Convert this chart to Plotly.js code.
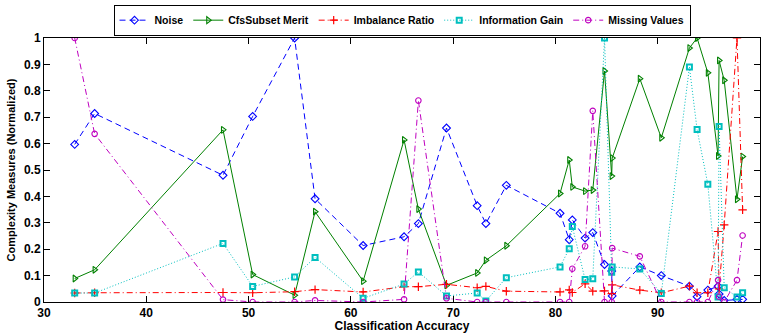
<!DOCTYPE html>
<html>
<head>
<meta charset="utf-8">
<script src="https://cdn.plot.ly/plotly-3.0.1.min.js"></script>
<style>
  html, body { margin: 0; padding: 0; background: #ffffff; }
  #chart { width: 766px; height: 333px; }
</style>
</head>
<body>
<div id="chart"></div>
<script>
// Classification accuracy of each dataset (x values)
const accuracy = [33.0, 34.95, 47.5, 50.4, 54.5, 56.5, 61.2, 65.2, 66.6, 69.35, 72.35, 73.2, 75.2,
  80.45, 81.35, 81.65, 82.9, 83.65, 84.8, 85.5, 85.55, 88.25, 90.35, 93.1, 93.85, 94.9,
  95.9, 96.0, 96.5, 97.75, 98.3];

const noise = [0.597, 0.714, 0.48, 0.703, 1.0, 0.391, 0.214, 0.247, 0.297, 0.659, 0.365, 0.297, 0.442,
  0.336, 0.236, 0.311, 0.242, 0.263, 0.142, 0.117, 0.023, 0.133, 0.1, 0.06, 0.02, 0.045,
  0.06, 0.03, 0.006, 0.01, 0.01];

const cfsSubsetMerit = [0.089, 0.122, 0.652, 0.104, 0.026, 0.342, 0.079, 0.614, 0.352, 0.063, 0.11, 0.158, 0.213,
  0.411, 0.538, 0.436, 0.42, 0.424, 0.875, 0.477, 0.545, 0.846, 0.622, 0.962, 1.0, 0.868,
  0.553, 0.915, 0.84, 0.389, 0.551];

const imbalanceRatio = [0.034, 0.035, 0.036, 0.035, 0.039, 0.047, 0.038, 0.058, 0.058, 0.067, 0.054, 0.059, 0.041,
  0.038, 0.046, 0.036, 0.069, 0.041, 0.042, 0.032, 0.065, 0.045, 0.035, 0.06, 0.035, 0.035,
  0.267, 0.05, 0.292, 1.0, 0.349];

const informationGain = [0.034, 0.034, 0.222, 0.059, 0.095, 0.169, 0.014, 0.068, 0.114, 0.023, 0.034, 0.004, 0.092,
  0.133, 0.202, 0.286, 0.085, 0.088, 1.0, 0.113, 0.133, 0.125, 0.032, 0.89, 0.653, 0.446,
  0.019, 0.665, 0.054, 0.019, 0.035];

const missingValues = [1.0, 0.637, 0.009, 0, 0, 0.006, 0, 0.01, 0.763, 0.014, 0, 0, 0,
  0, 0, 0.126, 0.211, 0.724, 0, 0, 0.204, 0.173, 0, 0, 0, 0,
  0.083, 0.02, 0, 0.083, 0.252];

const seriesNames = ["Noise", "CfsSubset Merit", "Imbalance Ratio", "Information Gain", "Missing Values"];
const xTicks = [30, 40, 50, 60, 70, 80, 90, 100];
const yTicks = [0, 0.1, 0.2, 0.3, 0.4, 0.5, 0.6, 0.7, 0.8, 0.9, 1];

const FONT = "Liberation Sans, Arial, Helvetica, sans-serif";

const traces = [
  { x: accuracy, y: noise, name: seriesNames[0], type: "scatter", mode: "lines+markers",
    line: { color: "#0000ff", width: 1, dash: "6px,4px" },
    marker: { symbol: "diamond-open", size: 6, color: "#0000ff", line: { width: 1.1, color: "#0000ff" } } },
  { x: accuracy, y: cfsSubsetMerit, name: seriesNames[1], type: "scatter", mode: "lines+markers",
    line: { color: "#008000", width: 1, dash: "solid" },
    marker: { symbol: "triangle-right-open", size: 6, color: "#008000", line: { width: 1.1, color: "#008000" } } },
  { x: accuracy, y: imbalanceRatio, name: seriesNames[2], type: "scatter", mode: "lines+markers",
    line: { color: "#ff0000", width: 1, dash: "6px,3px,1px,3px" },
    marker: { symbol: "cross-thin-open", size: 6, color: "#ff0000", line: { width: 1.2, color: "#ff0000" } } },
  { x: accuracy, y: informationGain, name: seriesNames[3], type: "scatter", mode: "lines+markers",
    line: { color: "#00bfbf", width: 1, dash: "1px,2px" },
    marker: { symbol: "square-open", size: 5, color: "#00bfbf", line: { width: 2, color: "#00bfbf" } } },
  { x: accuracy, y: missingValues, name: seriesNames[4], type: "scatter", mode: "lines+markers",
    line: { color: "#bf00bf", width: 1, dash: "6px,3px,1px,3px" },
    marker: { symbol: "circle-open", size: 5.5, color: "#bf00bf", line: { width: 1.1, color: "#bf00bf" } } }
];

const layout = {
  width: 766, height: 333,
  margin: { l: 44, r: 6, t: 37, b: 31, pad: 0 },
  paper_bgcolor: "#ffffff", plot_bgcolor: "#ffffff",
  font: { family: FONT, size: 11, color: "#000000", weight: "bold" },
  showlegend: true,
  legend: {
    orientation: "h", x: 0.5, xanchor: "center", y: 1.122, yanchor: "top",
    bordercolor: "#000000", borderwidth: 1, bgcolor: "#ffffff",
    font: { family: FONT, size: 10.5, color: "#000000", weight: "bold" },
    itemwidth: 30, tracegroupgap: 0
  },
  xaxis: {
    range: [30, 100], tickmode: "array", tickvals: xTicks, ticktext: xTicks.map(String),
    ticks: "inside", ticklen: 6, tickcolor: "#000000", tickwidth: 1,
    showline: true, linecolor: "#000000", linewidth: 1, mirror: "ticks",
    showgrid: false, zeroline: false,
    tickfont: { family: FONT, size: 12, color: "#000000", weight: "bold" },
    title: { text: "Classification Accuracy", standoff: 2,
      font: { family: FONT, size: 12, color: "#000000", weight: "bold" } }
  },
  yaxis: {
    range: [0, 1], tickmode: "array", tickvals: yTicks, ticktext: yTicks.map(String),
    ticks: "inside", ticklen: 6, tickcolor: "#000000", tickwidth: 1,
    showline: true, linecolor: "#000000", linewidth: 1, mirror: "ticks",
    showgrid: false, zeroline: false,
    tickfont: { family: FONT, size: 12, color: "#000000", weight: "bold" },
    title: { text: "Complexity Measures (Normalized)", standoff: 6,
      font: { family: FONT, size: 11, color: "#000000", weight: "bold" } }
  }
};

Plotly.newPlot("chart", traces, layout, { staticPlot: true, displayModeBar: false });
</script>
</body>
</html>
